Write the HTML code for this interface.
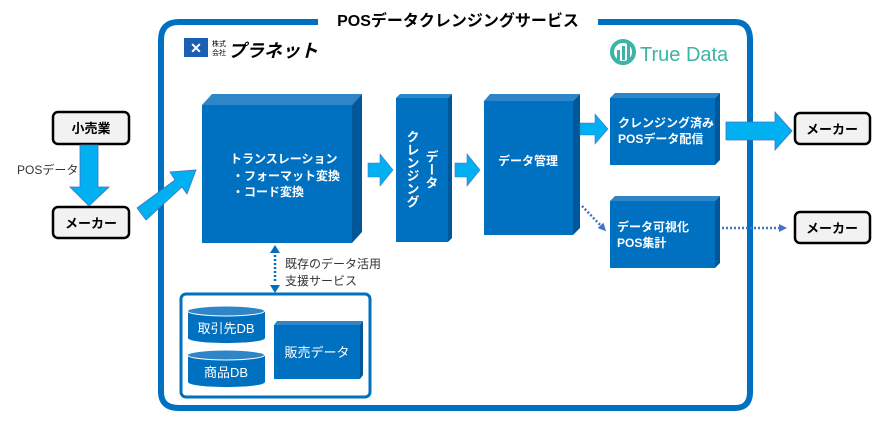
<!DOCTYPE html>
<html><head><meta charset="utf-8"><style>
html,body{margin:0;padding:0;background:#fff;width:886px;height:423px;overflow:hidden}
svg{display:block}
text{font-family:"Liberation Sans","Noto Sans CJK JP",sans-serif}
</style></head><body>
<svg width="886" height="423" viewBox="0 0 886 423" xmlns="http://www.w3.org/2000/svg">
<defs>
<marker id="ah" markerWidth="8" markerHeight="8" refX="5" refY="4" orient="auto" markerUnits="userSpaceOnUse"><path d="M0,0 L8,4 L0,8 z" fill="#4472C4"/></marker>
</defs>
<path d="M318,22 H179 Q161,22 161,40 V392 Q161,408 179,408 H735 Q750,408 750,392 V40 Q750,22 735,22 H598" fill="none" stroke="#0070C0" stroke-width="6"/>
<text x="458" y="26" font-size="16" font-weight="bold" text-anchor="middle" fill="#000">POSデータクレンジングサービス</text>

<rect x="184" y="38" width="24" height="19" fill="#1a5fb4"/>
<text x="196" y="53" font-size="14" font-weight="bold" text-anchor="middle" fill="#fff">✕</text>
<text x="212" y="46" font-size="7" fill="#000">株式</text>
<text x="212" y="55" font-size="7" fill="#000">会社</text>
<text x="228" y="57" font-size="18" font-weight="bold" fill="#000" font-style="italic">プラネット</text>

<circle cx="623" cy="52" r="11" fill="none" stroke="#3bb3a6" stroke-width="4"/>
<rect x="617" y="50" width="3" height="10" fill="#3bb3a6"/><rect x="622" y="46" width="3" height="14" fill="#3bb3a6"/><rect x="627" y="42" width="3" height="18" fill="#3bb3a6"/>
<text x="640" y="61" font-size="20" fill="#3bb3a6">True Data</text>

<rect x="53" y="112" width="76" height="32" rx="5" fill="#f2f2f2" stroke="#000" stroke-width="2.5"/>
<text x="91" y="133" font-size="13" font-weight="bold" text-anchor="middle">小売業</text>
<rect x="53" y="207" width="76" height="31" rx="5" fill="#f2f2f2" stroke="#000" stroke-width="2.5"/>
<text x="91" y="228" font-size="13" font-weight="bold" text-anchor="middle">メーカー</text>
<path d="M80,145 H98 V187 H109 L89,206 L70,187 H80 Z" fill="#00B0F0" stroke="#4472C4" stroke-width="0.8"/>
<text x="17" y="174" font-size="12" fill="#333">POSデータ</text>
<path d="M137,208 L175,180 L170,172 L196,170 L187,194 L182,187 L146,220 Z" fill="#00B0F0" stroke="#4472C4" stroke-width="0.8"/>

<polygon points="202,105 212,94 362,94 352,105" fill="#2E86C8"/>
<polygon points="352,105 362,94 362,232 352,243" fill="#00589A"/>
<rect x="202" y="105" width="150" height="138" fill="#0070C0"/>
<text x="230" y="163" font-size="12" font-weight="bold" fill="#fff">トランスレーション</text>
<text x="232" y="180" font-size="12" font-weight="bold" fill="#fff">・フォーマット変換</text>
<text x="232" y="196" font-size="12" font-weight="bold" fill="#fff">・コード変換</text>

<path d="M368,163 H380 V154 L393,170 L380,186 V177 H368 Z" fill="#00B0F0" stroke="#4472C4" stroke-width="0.6"/>

<polygon points="396,98 400,94 452,94 448,98" fill="#2E86C8"/>
<polygon points="448,98 452,94 452,238 448,242" fill="#00589A"/>
<rect x="396" y="98" width="52" height="144" fill="#0070C0"/>
<text font-size="13" font-weight="bold" fill="#fff" writing-mode="tb" x="431" y="150">データ</text>
<text font-size="13" font-weight="bold" fill="#fff" writing-mode="tb" x="412" y="130">クレンジング</text>

<path d="M455,163 H467 V154 L480,170 L467,186 V177 H455 Z" fill="#00B0F0" stroke="#4472C4" stroke-width="0.6"/>

<polygon points="484,101 490,94 580,94 573,101" fill="#2E86C8"/>
<polygon points="573,101 580,94 580,228 573,235" fill="#00589A"/>
<rect x="484" y="101" width="89" height="134" fill="#0070C0"/>
<text x="528" y="165" font-size="12" font-weight="bold" fill="#fff" text-anchor="middle">データ管理</text>

<path d="M580,123 H595 V114 L608,129 L595,144 V135 H580 Z" fill="#00B0F0" stroke="#4472C4" stroke-width="0.6"/>
<line x1="582" y1="206" x2="604" y2="229" stroke="#4472C4" stroke-width="2.5" stroke-dasharray="2,2" marker-end="url(#ah)"/>

<polygon points="610,98 615,93 720,93 715,98" fill="#2E86C8"/>
<polygon points="715,98 720,93 720,160 715,165" fill="#00589A"/>
<rect x="610" y="98" width="105" height="67" fill="#0070C0"/>
<text x="618" y="127" font-size="12" font-weight="bold" fill="#fff">クレンジング済み</text>
<text x="618" y="143" font-size="12" font-weight="bold" fill="#fff">POSデータ配信</text>

<polygon points="610,201 615,196 720,196 715,201" fill="#2E86C8"/>
<polygon points="715,201 720,196 720,263 715,268" fill="#00589A"/>
<rect x="610" y="201" width="105" height="67" fill="#0070C0"/>
<text x="617" y="231" font-size="12" font-weight="bold" fill="#fff">データ可視化</text>
<text x="617" y="247" font-size="12" font-weight="bold" fill="#fff">POS集計</text>

<path d="M726,122 H775 V112 L792,131 L775,150 V140 H726 Z" fill="#00B0F0" stroke="#4472C4" stroke-width="0.8"/>
<line x1="722" y1="228" x2="784" y2="228" stroke="#4472C4" stroke-width="2.5" stroke-dasharray="2,2" marker-end="url(#ah)"/>
<rect x="795" y="113" width="75" height="31" rx="5" fill="#f2f2f2" stroke="#000" stroke-width="2.5"/>
<text x="832" y="134" font-size="13" font-weight="bold" text-anchor="middle">メーカー</text>
<rect x="795" y="212" width="75" height="31" rx="5" fill="#f2f2f2" stroke="#000" stroke-width="2.5"/>
<text x="832" y="233" font-size="13" font-weight="bold" text-anchor="middle">メーカー</text>

<line x1="275" y1="255" x2="275" y2="283" stroke="#0070C0" stroke-width="2.5" stroke-dasharray="2,2"/>
<path d="M270,253 L275,245 L280,253 Z" fill="#0070C0"/>
<path d="M270,285 L275,293 L280,285 Z" fill="#0070C0"/>
<text x="285" y="268" font-size="12" fill="#333">既存のデータ活用</text>
<text x="285" y="285" font-size="12" fill="#333">支援サービス</text>

<rect x="181" y="294" width="189" height="103" rx="5" fill="none" stroke="#0070C0" stroke-width="3"/>
<path d="M188,311 V338 A38,5 0 0 0 265,338 V311" fill="#0070C0"/>
<ellipse cx="226" cy="311" rx="38.5" ry="5" fill="#2E86C8" stroke="#fff" stroke-width="1"/>
<text x="226" y="333" font-size="13" fill="#fff" text-anchor="middle">取引先DB</text>
<path d="M188,355 V382 A38,5 0 0 0 265,382 V355" fill="#0070C0"/>
<ellipse cx="226" cy="355" rx="38.5" ry="5" fill="#2E86C8" stroke="#fff" stroke-width="1"/>
<text x="226" y="377" font-size="13" fill="#fff" text-anchor="middle">商品DB</text>
<polygon points="274,325 277,321 363,321 360,325" fill="#2E86C8"/>
<polygon points="360,325 363,321 363,375 360,379" fill="#00589A"/>
<rect x="274" y="325" width="86" height="54" fill="#0070C0"/>
<text x="317" y="357" font-size="13" fill="#fff" text-anchor="middle">販売データ</text>
</svg>
</body></html>
